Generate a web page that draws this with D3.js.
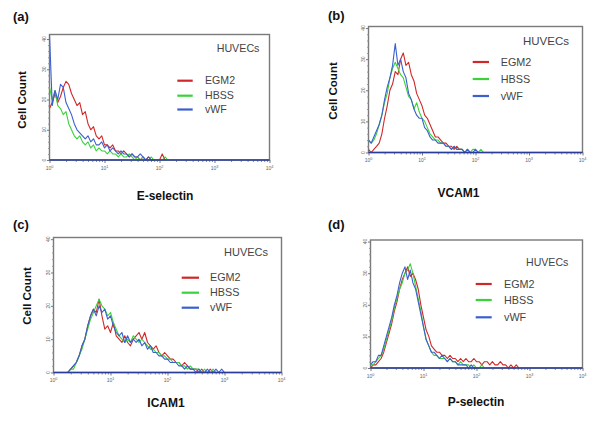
<!DOCTYPE html>
<html><head><meta charset="utf-8">
<script src="https://cdn.jsdelivr.net/npm/d3@7/dist/d3.min.js"></script>
<style>body{margin:0;background:#fff}svg{display:block}text{font-family:Arial,"Liberation Sans",sans-serif}</style>
</head><body>
<svg id="c" width="600" height="423"></svg>
<script>
// ---- data (histogram channels: 20 channels per decade, 4 decades) ----
const panelIds = ["(a)", "(b)", "(c)", "(d)"];
const markers = ["E-selectin", "VCAM1", "ICAM1", "P-selectin"];
const seriesNames = ["EGM2", "HBSS", "vWF"];
const seriesColors = ["#d02828", "#3ad23a", "#3c5fcf"];
const xTickLabels = ["0", "1", "2", "3", "4"]; // exponents of 10
const yTicks = [0, 10, 20, 30, 40];
const channelsPerDecade = 20;
const decades = 4;

const eselEGM2 = [17,19,22,19,21,24,26,25,22,20,18,19,15,16,12,10,11,8,7,8,5,5,4,5,3,3,2,3,2,1,2,1,1,0,1,0,1,0,0,0,0,2,0];
const eselHBSS = [24,20,23,18,17,15,16,12,10,8,7,8,6,5,6,4,5,3,4,3,3,2,3,2,2,1,2,1,1,2,1,0,1,0,1,0,0,1,0,0,0,0,1,0];
const eselVWF  = [42,18,23,20,25,24,19,17,15,12,10,9,8,7,8,6,7,5,5,6,4,5,3,4,3,2,3,2,2,1,2,1,1,2,1,0,1,0,0];

const vcamEGM2 = [1,0,1,2,3,6,11,15,20,22,26,25,30,32,28,29,25,23,19,17,15,12,11,9,7,5,5,4,3,3,2,2,1,2,1,1,0,1,0,0,0];
const vcamHBSS = [4,3,4,6,9,12,16,19,24,27,29,27,25,24,21,18,17,14,16,13,11,10,8,6,5,4,4,3,3,2,2,1,2,1,1,1,0,1,0,1,1,0,1,0];
const vcamVWF  = [4,3,5,7,9,12,17,21,24,28,35,28,30,26,24,19,17,14,12,11,11,8,7,5,4,4,3,3,3,2,2,1,2,1,1,1,0,1,0,0,1,0];

const icamEGM2 = [0,0,0,0,0,0,1,2,3,5,8,10,14,17,19,18,22,17,13,14,12,15,11,10,9,11,9,8,10,11,12,10,12,9,8,7,8,6,5,6,5,4,4,3,3,2,3,2,1,1,1,0,1,0,0,1,0];
const icamHBSS = [0,0,0,0,0,0,1,1,3,5,7,10,13,16,18,20,22,20,19,17,18,15,13,11,10,9,10,9,11,10,9,10,9,8,7,7,6,6,5,5,4,4,3,3,3,2,2,1,2,1,1,1,0,1,0,0,1,0];
const icamVWF  = [0,0,0,0,0,0,1,2,3,5,8,10,14,17,19,17,20,18,19,16,17,14,12,11,12,9,11,9,10,9,10,8,9,7,8,6,6,5,5,4,4,3,3,3,2,2,1,2,1,1,0,1,0,0,1,0,0,1,0,1,0];

const pselEGM2 = [0,1,1,2,3,5,8,11,14,18,21,25,28,30,32,29,30,28,25,20,16,12,10,7,6,5,5,4,4,3,4,3,3,2,3,2,3,2,2,3,2,2,1,2,2,1,2,1,1,2,1,1,0,1,0,1,0];
const pselHBSS = [1,1,2,3,4,6,9,12,15,19,22,25,27,30,31,33,30,26,22,18,13,9,7,5,4,4,3,3,3,2,3,2,2,1,2,1,1,1,0,1,0,0,1,0];
const pselVWF  = [1,2,2,4,4,7,10,13,16,20,23,27,30,32,28,31,27,25,21,17,13,9,7,5,5,4,3,4,3,2,3,2,2,1,1,1,1,0,1,0,0];

const panelSeries = [
  [eselEGM2, eselHBSS, eselVWF],
  [vcamEGM2, vcamHBSS, vcamVWF],
  [icamEGM2, icamHBSS, icamVWF],
  [pselEGM2, pselHBSS, pselVWF]
];

// ---- layout (styles / positions) ----
const layout = [
  {box:[49.5,34.5,269.5,160], yMax:41.5, id:[13,21], yTitle:[25.5,100], xTitle:[165,200], cellCount:true,
   hu:[216.7,51.7,10.7], leg:{x1:177.3,x2:192.7,tx:205,ys:[80.7,95.7,109.5],fs:10.6}},
  {box:[368.5,26.5,582.5,152.5], yMax:40.5, id:[328,20], yTitle:[337,91], xTitle:[458.5,196.5], cellCount:true,
   hu:[523,44.5,11.5], leg:{x1:472.7,x2:489,tx:500.7,ys:[62,79,96],fs:10.8}},
  {box:[53.5,237.5,281.5,372.5], yMax:40.5, id:[13,229], yTitle:[30.5,296], xTitle:[166,406.5], cellCount:true,
   hu:[224,255.5,11], leg:{x1:181.7,x2:199,tx:210,ys:[277.7,292.7,307.7],fs:10.8}},
  {box:[370.5,240,582.5,368], yMax:40.5, id:[328,229], yTitle:null, xTitle:[476,406], cellCount:false,
   hu:[526,265.5,10.6], leg:{x1:475.7,x2:491.7,tx:504,ys:[284,300,317.3],fs:10.8}}
];

const svg = d3.select("#c");
const nCh = channelsPerDecade * decades;

panelSeries.forEach((series, p) => {
  const L = layout[p];
  const [x0, y0, x1, y1] = L.box;
  const g = svg.append("g");
  const x = d3.scaleLinear().domain([0, nCh]).range([x0, x1]);
  const y = d3.scaleLinear().domain([0, L.yMax]).range([y1, y0]);

  // frame
  g.append("rect").attr("x", x0).attr("y", y0).attr("width", x1 - x0).attr("height", y1 - y0)
    .attr("fill", "#fff").attr("stroke", "#7a7a7a").attr("stroke-width", 1.4);

  // x axis: major ticks with 10^k labels, minor log ticks
  const majors = xTickLabels.map((e, i) => i * channelsPerDecade);
  const minors = [];
  for (let d = 0; d < decades; d++) for (let m = 2; m <= 9; m++) minors.push(d * channelsPerDecade + channelsPerDecade * Math.log10(m));
  const xAxis = d3.axisBottom(x).tickValues(majors).tickSize(3).tickFormat("");
  const xg = g.append("g").attr("transform", `translate(0,${y1})`).call(xAxis);
  xg.select(".domain").remove();
  xg.selectAll("line").attr("stroke", "#777");
  const xMinor = d3.axisBottom(x).tickValues(minors).tickSize(2).tickFormat("");
  const xmg = g.append("g").attr("transform", `translate(0,${y1})`).call(xMinor);
  xmg.select(".domain").remove();
  xmg.selectAll("line").attr("stroke", "#888");
  xTickLabels.forEach((e, i) => {
    const t = g.append("text").attr("x", x(majors[i])).attr("y", y1 + 9.5).attr("text-anchor", "middle")
      .attr("font-size", 5).attr("fill", "#666");
    t.append("tspan").text("10");
    t.append("tspan").attr("dy", -2).attr("font-size", 3.8).text(e);
  });

  // y axis
  const yAxis = d3.axisLeft(y).tickValues(yTicks).tickSize(2.5).tickFormat("");
  const yg = g.append("g").attr("transform", `translate(${x0},0)`).call(yAxis);
  yg.select(".domain").remove();
  yg.selectAll("line").attr("stroke", "#777");
  const yMinor = d3.range(2, 41, 2).filter(v => v % 10 !== 0);
  const ymg = g.append("g").attr("transform", `translate(${x0},0)`).call(d3.axisLeft(y).tickValues(yMinor).tickSize(1.5).tickFormat(""));
  ymg.select(".domain").remove();
  ymg.selectAll("line").attr("stroke", "#999");
  yTicks.forEach(v => {
    g.append("text").attr("transform", `translate(${x0 - 4},${y(v)}) rotate(-90)`)
      .attr("text-anchor", "middle").attr("font-size", 5).attr("fill", "#666").text(v);
  });

  // histogram lines
  const clip = "clip" + p;
  svg.append("clipPath").attr("id", clip).append("rect")
    .attr("x", x0).attr("y", y0).attr("width", x1 - x0).attr("height", y1 - y0 + 1);
  const line = d3.line().x((d, i) => x(i)).y(d => y(Math.min(d, L.yMax)));
  series.forEach((s, k) => {
    g.append("path").datum(s).attr("d", line).attr("fill", "none")
      .attr("stroke", seriesColors[k]).attr("stroke-width", 1.1).attr("stroke-linejoin", "round")
      .attr("clip-path", `url(#${clip})`);
  });
  // baseline at zero count
  g.append("line").attr("x1", x0).attr("x2", x1).attr("y1", y(0)).attr("y2", y(0))
    .attr("stroke", "#2a3c9a").attr("stroke-width", 1.6);

  // legend
  g.append("text").attr("x", L.hu[0]).attr("y", L.hu[1]).attr("font-size", L.hu[2]).attr("fill", "#444").text("HUVECs");
  seriesNames.forEach((nm, k) => {
    const ly = L.leg.ys[k];
    g.append("line").attr("x1", L.leg.x1).attr("x2", L.leg.x2).attr("y1", ly).attr("y2", ly)
      .attr("stroke", seriesColors[k]).attr("stroke-width", 2.2);
    g.append("text").attr("x", L.leg.tx).attr("y", ly + 3.6).attr("font-size", L.leg.fs).attr("fill", "#444").text(nm);
  });

  // titles
  g.append("text").attr("x", L.id[0]).attr("y", L.id[1]).attr("font-size", 13).attr("font-weight", "bold").attr("fill", "#111").text(panelIds[p]);
  g.append("text").attr("x", L.xTitle[0]).attr("y", L.xTitle[1]).attr("text-anchor", "middle")
    .attr("font-size", 12).attr("font-weight", "bold").attr("fill", "#111").text(markers[p]);
  if (L.cellCount) {
    g.append("text").attr("transform", `translate(${L.yTitle[0]},${L.yTitle[1]}) rotate(-90)`)
      .attr("text-anchor", "middle").attr("font-size", 11.5).attr("font-weight", "bold").attr("fill", "#111").text("Cell Count");
  }
});
</script>
</body></html>
